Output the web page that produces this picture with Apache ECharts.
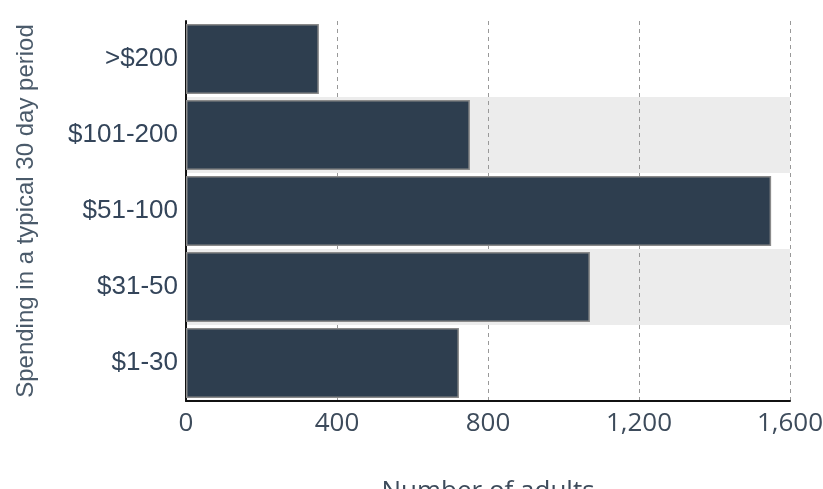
<!DOCTYPE html>
<html><head><meta charset="utf-8">
<script src="https://cdn.jsdelivr.net/npm/echarts@6/dist/echarts.min.js"></script>
<style>html,body{margin:0;padding:0;background:#fff;overflow:hidden}#c{width:823px;height:489px}</style>
</head><body><div id="c"></div>
<script>
const categories = ['$1-30', '$31-50', '$51-100', '$101-200', '>$200'];
const adults = [723, 1070, 1550, 752, 352];
const xTicks = [0, 400, 800, 1200, 1600];

const chart = echarts.init(document.getElementById('c'), null, {renderer: 'canvas', width: 823, height: 489});
chart.setOption({
  animation: false,
  grid: {left: 186, width: 604, top: 21, height: 380, containLabel: false, outerBoundsMode: 'none'},
  xAxis: {
    type: 'value', min: xTicks[0], max: xTicks[xTicks.length - 1], interval: 400,
    name: 'Number of adults', nameLocation: 'middle', nameGap: 78,
    nameTextStyle: {fontFamily: 'Open Sans', fontSize: 26, color: '#3d4b5b'},
    axisLine: {show: true, lineStyle: {color: '#111', width: 2}},
    axisTick: {show: false},
    axisLabel: {fontFamily: 'Open Sans', fontSize: 26, color: '#3d4b5b', margin: 10,
      formatter: v => v.toLocaleString('en-US')},
    splitLine: {show: true, lineStyle: {color: '#999', type: [4, 4], width: 1}}
  },
  yAxis: {
    type: 'category', data: categories,
    name: 'Spending in a typical 30 day period', nameLocation: 'middle', nameGap: 148,
    nameTextStyle: {fontFamily: 'Liberation Sans', fontSize: 24, color: '#4a5a6a'},
    axisLine: {show: true, lineStyle: {color: '#111', width: 2}},
    axisTick: {show: false},
    axisLabel: {fontFamily: 'Liberation Sans', fontSize: 26, color: '#34455a', margin: 8},
    splitLine: {show: false},
    splitArea: {show: true, areaStyle: {color: ['rgba(255,255,255,0)', '#ececec']}}
  },
  series: [{
    type: 'bar', data: adults, barCategoryGap: '8%',
    itemStyle: {color: '#2e3e4f', borderColor: '#8a8a8a', borderWidth: 1.5}
  }]
});
</script></body></html>
